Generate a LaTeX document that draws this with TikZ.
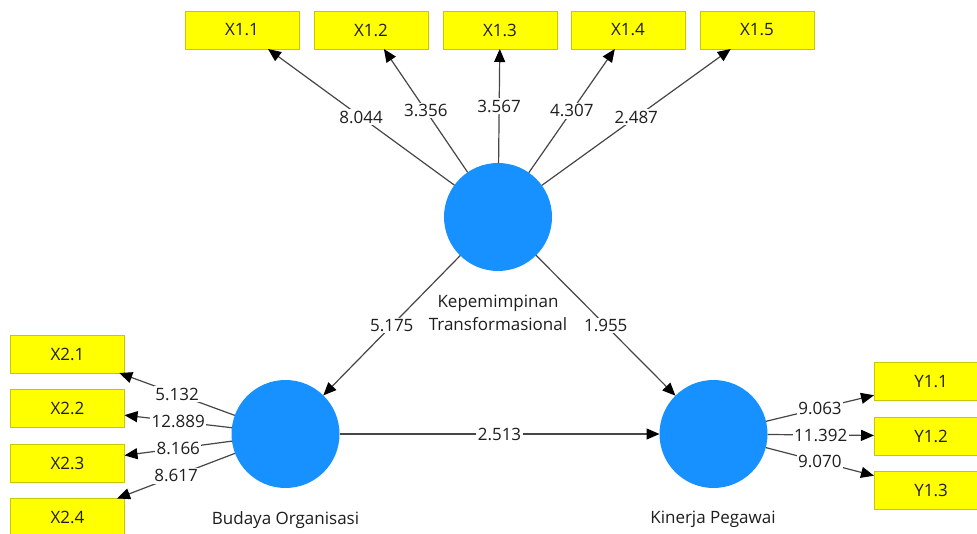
\documentclass[tikz,border=0pt]{standalone}
\usepackage{fontspec}
\setmainfont{Open Sans}
\usetikzlibrary{arrows.meta}
\definecolor{lvblue}{RGB}{22,145,255}
\definecolor{boxyel}{RGB}{255,255,0}
\definecolor{boxedge}{RGB}{200,200,0}
\definecolor{linegray}{RGB}{70,70,70}
\definecolor{txt}{RGB}{30,30,30}
\begin{document}
\begin{tikzpicture}[x=1pt,y=-1pt,
  ind/.style={draw=boxedge, fill=boxyel, minimum width=114pt, minimum height=38pt,
    inner sep=0pt, outer sep=0pt, line width=0.8pt, text=txt,
    font=\fontsize{17}{20}\selectfont},
  lat/.style={circle, fill=lvblue, minimum size=108pt, inner sep=0pt, outer sep=0pt},
  lbl/.style={text=txt, font=\fontsize{17}{23}\selectfont, align=center, inner sep=0pt},
  conn/.style={draw=linegray, line width=1.2pt,
    -{Triangle[length=13pt,width=11pt,color=black]}},
  wt/.style={midway, fill=white, inner sep=1.5pt, text=txt,
    font=\fontsize{17}{20}\selectfont}
]
\clip (0,0) rectangle (977,534);
\fill[white] (0,0) rectangle (977,534);

% latent variables
\node[lat] (kep) at (498,217) {};
\node[lat] (bud) at (285.5,434) {};
\node[lat] (kin) at (713.5,434) {};

\node[lbl] (kepl) at (498,313) {Kepemimpinan\\Transformasional};
\node[lbl] (budl) at (285.5,520) {Budaya Organisasi};
\node[lbl] (kinl) at (713,519) {Kinerja Pegawai};

% indicators
\node[ind] (x11) at (242,30) {X1.1};
\node[ind] (x12) at (371,30) {X1.2};
\node[ind] (x13) at (500,30) {X1.3};
\node[ind] (x14) at (628,30) {X1.4};
\node[ind] (x15) at (757,30) {X1.5};

\node[ind] (x21) at (67.5,354) {X2.1};
\node[ind] (x22) at (67.5,408.5) {X2.2};
\node[ind] (x23) at (67.5,463) {X2.3};
\node[ind] (x24) at (67.5,517.5) {X2.4};

\node[ind] (y11) at (931,381.5) {Y1.1};
\node[ind] (y12) at (931,436) {Y1.2};
\node[ind] (y13) at (931,490.5) {Y1.3};

% outer loadings
\draw[conn] (kep) -- (x11) node[wt] {8.044};
\draw[conn] (kep) -- (x12) node[wt] {3.356};
\draw[conn] (kep) -- (x13) node[wt] {3.567};
\draw[conn] (kep) -- (x14) node[wt] {4.307};
\draw[conn] (kep) -- (x15) node[wt] {2.487};

\draw[conn] (bud) -- (x21) node[wt] {5.132};
\draw[conn] (bud) -- (x22) node[wt] {12.889};
\draw[conn] (bud) -- (x23) node[wt] {8.166};
\draw[conn] (bud) -- (x24) node[wt] {8.617};

\draw[conn] (kin) -- (y11) node[wt] {9.063};
\draw[conn] (kin) -- (y12) node[wt] {11.392};
\draw[conn] (kin) -- (y13) node[wt] {9.070};

% structural paths
\draw[conn] (kep) -- (bud) node[wt] {5.175};
\draw[conn] (kep) -- (kin) node[wt] {1.955};
\draw[conn] (bud) -- (kin) node[wt] {2.513};
\end{tikzpicture}
\end{document}
